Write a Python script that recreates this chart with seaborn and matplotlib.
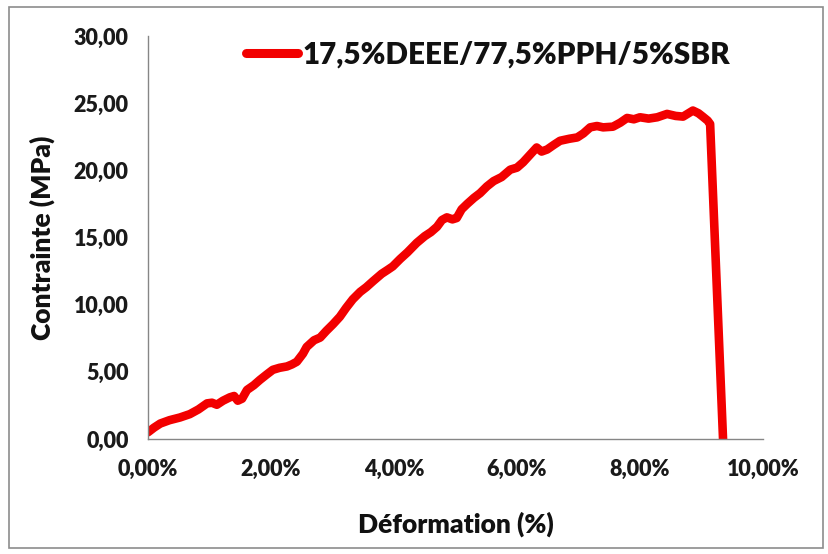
import matplotlib
matplotlib.use("Agg")
import matplotlib.pyplot as plt
import seaborn as sns
import pandas as pd
from matplotlib.ticker import FuncFormatter, MultipleLocator
from matplotlib.patches import Rectangle

# Strain (%) and stress (MPa) for the tensile test
deformation = [0.00, 0.10, 0.20, 0.35, 0.52, 0.68, 0.82, 0.96, 1.04, 1.12, 1.22,
               1.33, 1.40, 1.46, 1.53, 1.61, 1.72, 1.82, 1.93, 2.03, 2.14, 2.26,
               2.34, 2.42, 2.52, 2.58, 2.70, 2.80, 2.90, 3.01, 3.12, 3.22, 3.33,
               3.45, 3.55, 3.66, 3.80, 3.90, 3.98, 4.10, 4.22, 4.37, 4.50, 4.60,
               4.70, 4.78, 4.86, 4.95, 5.02, 5.10, 5.19, 5.30, 5.40, 5.51, 5.62,
               5.75, 5.89, 6.00, 6.10, 6.20, 6.32, 6.40, 6.49, 6.60, 6.70, 6.85,
               6.98, 7.08, 7.19, 7.30, 7.40, 7.56, 7.68, 7.79, 7.90, 8.00, 8.14,
               8.28, 8.44, 8.58, 8.70, 8.86, 8.95, 9.02, 9.10, 9.14, 9.35]
contrainte = [0.50, 0.85, 1.15, 1.40, 1.60, 1.85, 2.20, 2.65, 2.70, 2.55, 2.85,
              3.10, 3.20, 2.85, 3.00, 3.65, 4.00, 4.40, 4.80, 5.15, 5.30, 5.40,
              5.55, 5.75, 6.35, 6.85, 7.35, 7.55, 8.05, 8.55, 9.10, 9.75, 10.40,
              10.95, 11.30, 11.75, 12.30, 12.60, 12.85, 13.40, 13.90, 14.60, 15.10, 15.40,
              15.80, 16.30, 16.50, 16.35, 16.45, 17.10, 17.50, 17.95, 18.30, 18.80, 19.20,
              19.50, 20.05, 20.20, 20.60, 21.10, 21.70, 21.40, 21.55, 21.90, 22.20, 22.35,
              22.45, 22.75, 23.20, 23.30, 23.20, 23.25, 23.55, 23.90, 23.80, 23.95, 23.85,
              23.95, 24.20, 24.05, 24.00, 24.45, 24.25, 24.00, 23.70, 23.45, 0.00]
serie = "17,5%DEEE/77,5%PPH/5%SBR"

df = pd.DataFrame({"Déformation": deformation, "Contrainte": contrainte})

sns.set_style("white")
plt.rcParams["font.family"] = ["Lato", "DejaVu Sans"]

fig = plt.figure(figsize=(8.29, 5.54), dpi=100)
ax = fig.add_axes([0.1785, 0.2076, 0.7419, 0.7274])

sns.lineplot(data=df, x="Déformation", y="Contrainte", sort=False, estimator=None,
             color="#f20000", linewidth=6.2, label=serie, ax=ax,
             solid_capstyle="round", solid_joinstyle="round")

ax.set_xlim(0, 10)
ax.set_ylim(0, 30)
ax.xaxis.set_major_locator(MultipleLocator(2))
ax.yaxis.set_major_locator(MultipleLocator(5))
ax.xaxis.set_major_formatter(FuncFormatter(lambda v, p: f"{v:.2f}%".replace(".", ",")))
ax.yaxis.set_major_formatter(FuncFormatter(lambda v, p: f"{v:.2f}".replace(".", ",")))

for side in ("top", "right"):
    ax.spines[side].set_visible(False)
for side in ("left", "bottom"):
    ax.spines[side].set_color("#868686")
    ax.spines[side].set_linewidth(1.0)

ax.tick_params(axis="both", which="major", direction="out", length=5, width=1,
               color="#868686", labelsize=15.5, labelcolor="#1a1a1a", pad=9)
for lab in ax.get_xticklabels() + ax.get_yticklabels():
    lab.set_fontweight("heavy")

ax.set_xlabel("Déformation (%)", fontsize=19, fontweight="heavy", labelpad=23, color="#111111")
ax.set_ylabel("Contrainte (MPa)", fontsize=19, fontweight="heavy", labelpad=13, color="#111111")

leg = ax.legend(loc="upper left", bbox_to_anchor=(0.14, 1.018), frameon=False,
                handlelength=1.75, handletextpad=0.15, borderaxespad=0,
                prop={"weight": "heavy", "size": 21.3})
for t in leg.get_texts():
    t.set_color("#111111")
for h in leg.get_lines():
    h.set_linewidth(6.5)

fig.patches.append(Rectangle((9 / 829, 1 - 548 / 554), (823 - 9) / 829, (548 - 7) / 554,
                             transform=fig.transFigure, fill=False,
                             edgecolor="#8c8c8c", linewidth=1.2))

fig.savefig("out.png", dpi=100)
